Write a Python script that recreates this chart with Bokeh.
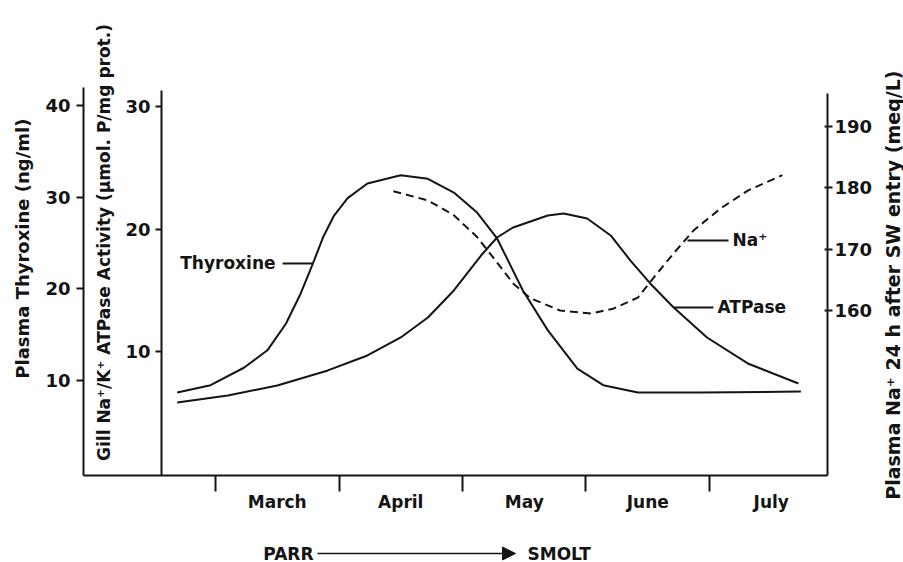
from bokeh.plotting import figure
from bokeh.models import Range1d, LinearAxis, FixedTicker, Label, Arrow, NormalHead
from bokeh.core.properties import value
from bokeh.embed import file_html
from bokeh.resources import INLINE

# ---------------- data ----------------
months = ["March", "April", "May", "June", "July"]
month_centers = [0.5, 1.5, 2.5, 3.5, 4.5]
month_bounds = [0, 1, 2, 3, 4]

# x in months since 1 March
thy_month = [-0.31, -0.04, 0.23, 0.42, 0.57, 0.69, 0.79, 0.87, 0.96, 1.07, 1.23,
             1.50, 1.72, 1.93, 2.12, 2.28, 2.49, 2.69, 2.93, 3.14, 3.42, 3.93, 4.74]
thy_val = [8.7, 9.5, 11.4, 13.3, 16.2, 19.5, 22.8, 25.6, 28.0, 29.9, 31.5,
           32.4, 32.0, 30.5, 28.3, 25.5, 19.8, 15.5, 11.3, 9.5, 8.7, 8.7, 8.8]

atp_month = [-0.31, 0.10, 0.50, 0.91, 1.23, 1.50, 1.72, 1.93, 2.15, 2.28, 2.41,
             2.69, 2.82, 3.01, 3.20, 3.36, 3.52, 3.71, 3.98, 4.31, 4.72]
atp_val = [5.85, 6.42, 7.24, 8.47, 9.69, 11.16, 12.79, 15.0, 17.85, 19.32, 20.14,
           21.12, 21.28, 20.87, 19.49, 17.44, 15.57, 13.61, 11.16, 9.04, 7.40]

na_month = [1.44, 1.72, 1.93, 2.12, 2.28, 2.41, 2.55, 2.79, 3.04, 3.22, 3.42,
            3.55, 3.71, 3.87, 4.09, 4.31, 4.59]
na_val = [179.4, 177.9, 175.5, 171.9, 167.8, 164.4, 162.0, 160.0, 159.5, 160.3, 162.1,
          165.4, 169.3, 173.0, 176.6, 179.5, 182.0]

thy_ticks = [10, 20, 30, 40]
atp_ticks = [10, 20, 30]
na_ticks = [160, 170, 180, 190]

thy_title = "Plasma  Thyroxine (ng/ml)"
atp_title = "Gill Na\u207a/K\u207a ATPase Activity (\u00b5mol. P/mg prot.)"
na_title = "Plasma Na\u207a 24 h   after SW entry (meq/L)"

# ---------------- styling ----------------
FONT = "DejaVu Sans"
INK = "#141414"
W, H = 903, 562

# the plotting frame covers the whole canvas; the axes are placed at fixed positions
p = figure(width=W, height=H, output_backend="svg", toolbar_location=None,
           x_range=Range1d(-1.741, 5.571), y_range=Range1d(-9.84, 51.45),
           min_border=0, min_border_left=0, min_border_right=0,
           min_border_top=0, min_border_bottom=0,
           background_fill_color="white", border_fill_color="white")
p.outline_line_color = None
p.grid.visible = False
p.extra_y_ranges = {"atp": Range1d(-7.21, 38.67), "na": Range1d(119.02, 210.41)}


def style_axis(ax, tick_out=7, tick_in=0, standoff=6):
    ax.axis_line_width = 2
    ax.axis_line_color = INK
    ax.major_tick_line_width = 2
    ax.major_tick_line_color = INK
    ax.major_tick_out = tick_out
    ax.major_tick_in = tick_in
    ax.minor_tick_line_color = None
    ax.major_label_text_font = FONT
    ax.major_label_text_font_size = "18px"
    ax.major_label_text_font_style = "bold"
    ax.major_label_text_color = INK
    ax.major_label_standoff = standoff


ax_thy = p.yaxis[0]
ax_thy.ticker = FixedTicker(ticks=thy_ticks)
ax_thy.fixed_location = -1.069
ax_thy.bounds = (-0.35, 41.96)
style_axis(ax_thy, 7, 0, 6)

ax_atp = LinearAxis(y_range_name="atp", ticker=FixedTicker(ticks=atp_ticks),
                    fixed_location=-0.437, bounds=(-0.11, 31.32))
style_axis(ax_atp, 6, 0, 5)
p.add_layout(ax_atp, "left")

ax_na = LinearAxis(y_range_name="na", ticker=FixedTicker(ticks=na_ticks),
                   fixed_location=4.955, bounds=(133.17, 195.28))
style_axis(ax_na, 5, 3, 2)
p.add_layout(ax_na, "right")

xa = p.xaxis[0]
xa.ticker = FixedTicker(ticks=month_centers, minor_ticks=month_bounds)
xa.major_label_overrides = {c: m for c, m in zip(month_centers, months)}
xa.fixed_location = -0.35
xa.bounds = (-1.069, 4.955)
style_axis(xa, 0, 0, 1)
xa.major_tick_line_color = None
xa.major_label_text_font_size = "17px"
xa.minor_tick_line_color = INK
xa.minor_tick_line_width = 2
xa.minor_tick_out = 16
xa.minor_tick_in = 0

# ---------------- curves ----------------
p.line(thy_month, thy_val, line_width=2, color=INK, line_join="round")
p.line(atp_month, atp_val, line_width=2, color=INK, line_join="round", y_range_name="atp")
p.line(na_month, na_val, line_width=2, color=INK, line_dash="8 5", y_range_name="na")

# ---------------- curve labels with leader lines ----------------
txt = dict(text_font=value(FONT), text_font_size=value("17px"), text_font_style=value("bold"),
           text_color=INK, text_baseline="middle")
p.segment(x0=[0.543], y0=[22.77], x1=[0.785], y1=[22.77], line_width=2, color=INK)
p.text(x=[0.486], y=[22.77], text=["Thyroxine"], text_align="right", **txt)
p.segment(x0=[3.822], y0=[171.4], x1=[4.154], y1=[171.4], line_width=2, color=INK, y_range_name="na")
p.text(x=[4.186], y=[171.4], text=["Na\u207a"], text_align="left", y_range_name="na", **txt)
p.segment(x0=[3.709], y0=[13.61], x1=[4.032], y1=[13.61], line_width=2, color=INK, y_range_name="atp")
p.text(x=[4.065], y=[13.61], text=["ATPase"], text_align="left", y_range_name="atp", **txt)

# ---------------- axis titles (screen px, origin bottom-left) ----------------
lab = dict(x_units="screen", y_units="screen", angle=90, angle_units="deg",
           text_align="center", text_baseline="middle", text_font=FONT,
           text_font_style="bold", text_color=INK)
p.add_layout(Label(x=22, y=H - 245, text=thy_title, text_font_size="18px", **lab))
p.add_layout(Label(x=103, y=H - 242, text=atp_title, text_font_size="17px", **lab))
p.add_layout(Label(x=892, y=H - 278, text=na_title, text_font_size="19px", **lab))

# ---------------- PARR -> SMOLT ----------------
p.add_layout(Arrow(end=NormalHead(size=13, fill_color=INK, line_color=INK, line_width=1),
                   x_start=317, y_start=H - 553, x_end=515, y_end=H - 553,
                   start_units="screen", end_units="screen", line_width=1.5, line_color=INK))
hl = dict(x_units="screen", y_units="screen", text_baseline="middle", text_font=FONT,
          text_font_size="17px", text_font_style="bold", text_color=INK)
p.add_layout(Label(x=313, y=H - 553, text="PARR", text_align="right", **hl))
p.add_layout(Label(x=527, y=H - 553, text="SMOLT", text_align="left", **hl))

open("out.html", "w").write(file_html(p, INLINE))
